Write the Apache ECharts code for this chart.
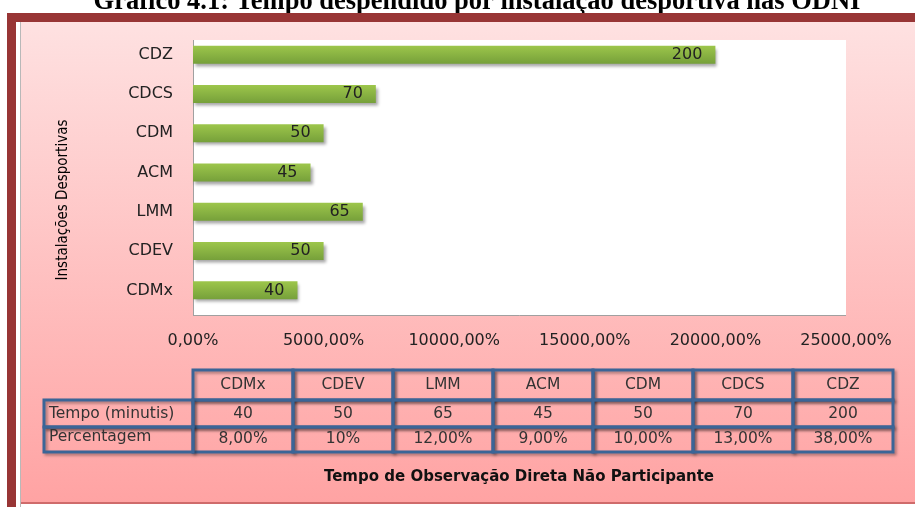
<!DOCTYPE html>
<html lang="pt">
<head>
<meta charset="UTF-8">
<title>Gráfico 4.1</title>
<script src="https://cdn.jsdelivr.net/npm/echarts@6/dist/echarts.min.js"></script>
<style>
  html, body { margin: 0; padding: 0; background: #fff; }
  #main { width: 915px; height: 507px; }
</style>
</head>
<body>
<div id="main"></div>
<script>
// dados
var categorias = ['CDMx', 'CDEV', 'LMM', 'ACM', 'CDM', 'CDCS', 'CDZ'];
var tempos = [40, 50, 65, 45, 50, 70, 200];
var percentagens = ['8,00%', '10%', '12,00%', '9,00%', '10,00%', '13,00%', '38,00%'];
var linhasTabela = ['Tempo (minutis)', 'Percentagem'];

var fonte = '"DejaVu Sans", "Open Sans", sans-serif';
var azul = '#3b6597';
var cinza = '#a0a0a0';

// tabela de dados (desenhada com graphic)
var tabX = 193, colW = 100, labelX = 44;
var rowY = [370, 400, 427, 452];
var tabela = [];
function celula(x, y, w, h) {
    tabela.push({
        type: 'rect',
        shape: { x: x, y: y, width: w, height: h },
        style: { fill: 'transparent', stroke: azul, lineWidth: 3,
                 shadowBlur: 3, shadowOffsetX: 2, shadowOffsetY: 2, shadowColor: 'rgba(0,0,0,0.35)' }
    });
}
function texto(txt, x, y, align) {
    tabela.push({ type: 'text', x: x, y: y,
        style: { text: txt, fill: '#333', font: '15.5px ' + fonte, align: align, verticalAlign: 'middle' } });
}
for (var i = 0; i < categorias.length; i++) {
    var x = tabX + i * colW;
    for (var r = 0; r < 3; r++) celula(x, rowY[r], colW, rowY[r + 1] - rowY[r]);
    texto(categorias[i], x + colW / 2, (rowY[0] + rowY[1]) / 2, 'center');
    texto(String(tempos[i]), x + colW / 2, (rowY[1] + rowY[2]) / 2, 'center');
    texto(percentagens[i], x + colW / 2, (rowY[2] + rowY[3]) / 2 - 1, 'center');
}
for (var r = 1; r < 3; r++) {
    celula(labelX, rowY[r], tabX - labelX, rowY[r + 1] - rowY[r]);
    texto(linhasTabela[r - 1], labelX + 5, (rowY[r] + rowY[r + 1]) / 2 - (r === 2 ? 3 : 0), 'left');
}

var myChart = echarts.init(document.getElementById('main'));

var option = {
    backgroundColor: '#ffffff',
    animation: false,
    graphic: [
        // título (parcialmente cortado, como no original)
        {
            type: 'text', x: 477, y: 16, z: 1,
            style: { text: 'Gráfico 4.1: Tempo despendido por instalação desportiva nas ODNI',
                     font: 'bold 26.5px "Liberation Serif", "Times New Roman", serif',
                     fill: '#000', align: 'center', verticalAlign: 'bottom' }
        },
        // moldura vermelha
        { type: 'rect', z: 5, shape: { x: 7, y: 13, width: 908, height: 9 }, style: { fill: '#983535' } },
        { type: 'rect', z: 5, shape: { x: 7, y: 13, width: 9, height: 494 }, style: { fill: '#983535' } },
        { type: 'rect', z: 5, shape: { x: 16, y: 22, width: 4, height: 485 }, style: { fill: '#ffffff' } },
        { type: 'rect', z: 5, shape: { x: 20, y: 22, width: 1, height: 485 }, style: { fill: '#b8b8b8' } },
        {
            type: 'rect', z: 2,
            shape: { x: 21, y: 22, width: 894, height: 481 },
            style: {
                fill: new echarts.graphic.LinearGradient(0, 0, 0, 1, [
                    { offset: 0, color: '#fee1e1' },
                    { offset: 1, color: '#ffa3a3' }
                ])
            }
        },
        { type: 'rect', z: 3, shape: { x: 21, y: 502, width: 894, height: 2 }, style: { fill: '#cf6b6b' } },
        // área do gráfico e eixos
        { type: 'rect', z: 3, shape: { x: 193, y: 40, width: 653, height: 275 }, style: { fill: '#ffffff' } },
        { type: 'line', z: 4, shape: { x1: 193.5, y1: 40, x2: 193.5, y2: 315 }, style: { stroke: cinza, lineWidth: 1 } },
        { type: 'line', z: 4, shape: { x1: 193, y1: 315.5, x2: 846, y2: 315.5 }, style: { stroke: cinza, lineWidth: 1 } },
        {
            type: 'text', x: 63, y: 200, rotation: Math.PI / 2, z: 4,
            style: { text: 'Instalações Desportivas', font: '15px "Liberation Sans Narrow", "DejaVu Sans Condensed", sans-serif',
                     fill: '#000', align: 'center', verticalAlign: 'middle' }
        },
        {
            type: 'text', x: 519, y: 477, z: 4,
            style: { text: 'Tempo de Observação Direta Não Participante', font: 'bold 15px ' + fonte,
                     fill: '#111', align: 'center', verticalAlign: 'middle' }
        }
    ].concat(tabela.map(function (e) { e.z = 4; return e; })),
    grid: {
        left: 193, right: 69, top: 35, bottom: 197,
        show: false
    },
    xAxis: {
        type: 'value',
        z: 8,
        min: 0, max: 250, interval: 50,
        axisLine: { show: false },
        axisTick: { show: false },
        splitLine: { show: false },
        axisLabel: {
            margin: 23, color: '#222', fontSize: 16, fontFamily: fonte,
            formatter: function (v) { return (v * 100) + ',00%'; }
        }
    },
    yAxis: {
        type: 'category',
        z: 8,
        data: categorias,
        axisLine: { show: false },
        axisTick: { show: false },
        axisLabel: { margin: 20, color: '#222', fontSize: 16, fontFamily: fonte }
    },
    series: [{
        type: 'bar',
        data: tempos,
        barWidth: 18,
        z: 10,
        itemStyle: {
            color: new echarts.graphic.LinearGradient(0, 0, 0, 1, [
                { offset: 0, color: '#9dc64b' },
                { offset: 1, color: '#76a03a' }
            ]),
            shadowBlur: 3, shadowOffsetX: 2, shadowOffsetY: 3, shadowColor: 'rgba(0,0,0,0.35)'
        },
        label: {
            show: true, position: 'insideRight', distance: 13,
            color: '#222', fontSize: 16, fontFamily: fonte
        }
    }]
};

myChart.setOption(option);
</script>
</body>
</html>
